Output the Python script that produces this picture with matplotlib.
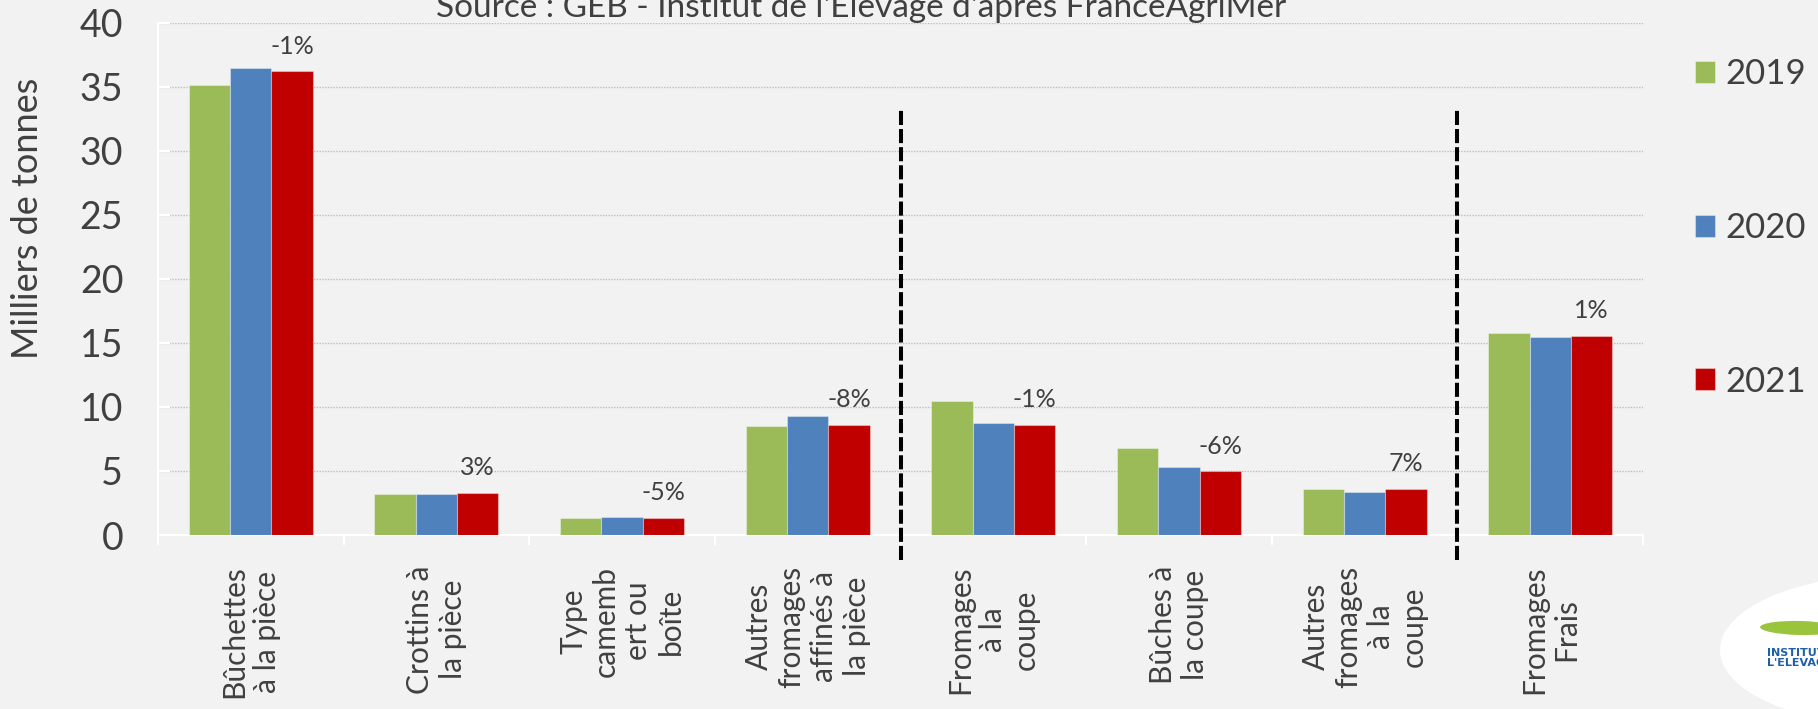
import matplotlib.pyplot as plt
import numpy as np
from matplotlib.patches import Ellipse

TEXT_COLOR = '#404040'
BG_COLOR = '#f2f2f2'

categories = [
    'Bûchettes\nà la pièce',
    'Crottins à\nla pièce',
    'Type\ncamemb\nert ou\nboîte',
    'Autres\nfromages\naffinés à\nla pièce',
    'Fromages\nà la\ncoupe',
    'Bûches à\nla coupe',
    'Autres\nfromages\nà la\ncoupe',
    'Fromages\nFrais',
]
years = ['2019', '2020', '2021']
values_2019 = [35.1, 3.18, 1.35, 8.5, 10.47, 6.8, 3.62, 15.76]
values_2020 = [36.5, 3.18, 1.40, 9.3, 8.72, 5.29, 3.38, 15.44]
values_2021 = [36.2, 3.28, 1.33, 8.6, 8.60, 4.97, 3.62, 15.55]
change_labels = ['-1%', '3%', '-5%', '-8%', '-1%', '-6%', '7%', '1%']
separators = [3.5, 6.5]
colors = ['#9bbb59', '#4f81bd', '#c00000']

plt.rcParams['font.family'] = ['Lato', 'DejaVu Sans']
plt.rcParams['text.color'] = TEXT_COLOR

fig = plt.figure(figsize=(18.18, 7.09), dpi=100, facecolor=BG_COLOR)
ax = fig.add_axes([158 / 1818, 1 - 535 / 709, 1485 / 1818, (535 - 22.7) / 709])
ax.set_facecolor(BG_COLOR)

x = np.arange(len(categories))
width = 0.2225
series = [values_2019, values_2020, values_2021]
for i, (year, vals, col) in enumerate(zip(years, series, colors)):
    ax.bar(x + (i - 1) * width, vals, width, color=col, label=year,
           edgecolor=(1, 1, 1, 0.35), linewidth=0.8, zorder=3)

for xi, v, lab in zip(x, values_2021, change_labels):
    ax.annotate(lab, (xi + width, v), xytext=(0, 18), textcoords='offset points',
                ha='center', va='center', fontsize=18, color=TEXT_COLOR, zorder=4)

for s in separators:
    ax.plot([s, s], [-1.95, 33.2], color='black', lw=2.9, linestyle=(0, (3.5, 1.0)),
            clip_on=False, zorder=5)

ax.set_xlim(-0.5, len(categories) - 0.5)
ax.set_ylim(0, 40)
ax.set_yticks(np.arange(0, 41, 5))
ax.yaxis.grid(True, color='#bdbdbd', linestyle=(0, (1, 1)), linewidth=1)
ax.set_axisbelow(True)

ax.set_xticks(np.arange(-0.5, len(categories), 1))
ax.set_xticks(x, categories, minor=True)
ax.tick_params(axis='x', which='major', length=7, width=1.5, color='white', labelbottom=False)
ax.tick_params(axis='x', which='minor', length=0, pad=22, labelsize=21.5, labelcolor=TEXT_COLOR)
for t in ax.get_xticklabels(minor=True):
    t.set_rotation(90)
    t.set_va('top')
    t.set_ha('center')
    t.set_multialignment('center')
    t.set_linespacing(1.2)
ax.tick_params(axis='y', direction='in', length=8.6, width=1.5, color='white', pad=25,
               labelsize=27, labelcolor=TEXT_COLOR)

for side in ['top', 'right']:
    ax.spines[side].set_visible(False)
for side in ['left', 'bottom']:
    ax.spines[side].set_color('white')
    ax.spines[side].set_linewidth(1.5)

fig.text(861 / 1818, 1 - 17 / 709, "Source : GEB - Institut de l'Elevage d'après FranceAgriMer",
         ha='center', va='baseline', fontsize=24)
fig.text(28 / 1818, 1 - 218 / 709, 'Milliers de tonnes', rotation=90,
         ha='center', va='center', fontsize=26)

leg = ax.legend(loc='center left', bbox_to_anchor=(1695 / 1818, 1 - 228 / 709),
                bbox_transform=fig.transFigure, frameon=False, fontsize=25,
                handlelength=0.58, handleheight=0.58, handletextpad=0.3,
                labelspacing=3.5, borderpad=0, borderaxespad=0)
for t in leg.get_texts():
    t.set_color(TEXT_COLOR)

# logo corner
fig.patches.append(Ellipse((1890 / 1818, 1 - 650 / 709), 340 / 1818, 150 / 709,
                           transform=fig.transFigure, facecolor='white', edgecolor='none'))
fig.patches.append(Ellipse((1800 / 1818, 1 - 628 / 709), 80 / 1818, 14 / 709, angle=-4,
                           transform=fig.transFigure, facecolor='#9ac43c', edgecolor='none'))
fig.text(1767 / 1818, 1 - 658 / 709, "INSTITUT DE\nL'ELEVAGE", fontsize=8, fontweight='bold',
         color='#1f5fa8', family=['DejaVu Sans'], ha='left', va='center', linespacing=1.0)

fig.savefig('out.png', dpi=100, facecolor=BG_COLOR)
